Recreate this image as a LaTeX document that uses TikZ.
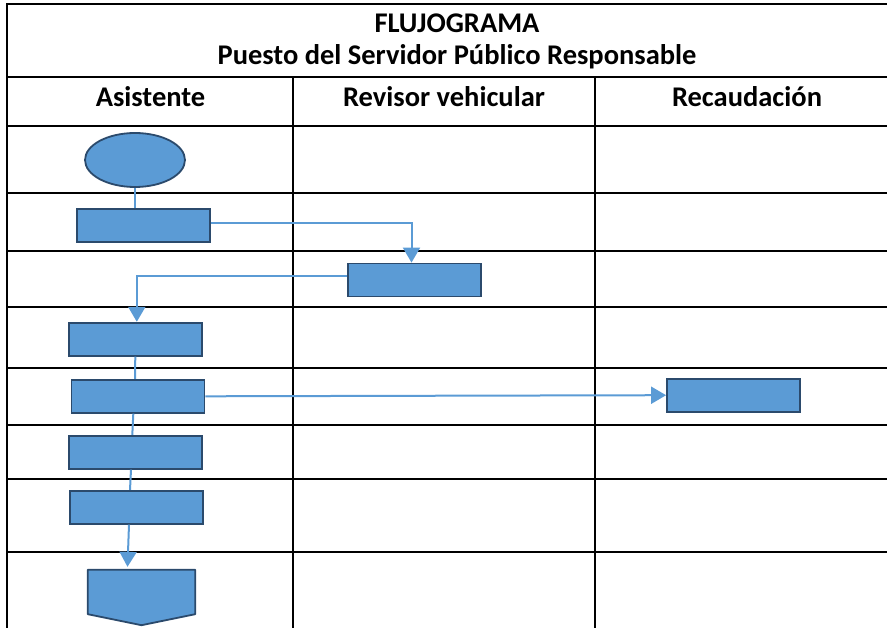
\documentclass[tikz,border=0pt]{standalone}
\usepackage{fontspec}
\setmainfont{Carlito}
\usetikzlibrary{shapes.geometric, arrows.meta, calc}
\definecolor{cajaazul}{HTML}{5B9BD5}
\definecolor{bordeazul}{HTML}{2B4A6C}
\tikzset{
    caja/.style={draw=bordeazul, fill=cajaazul, line width=1.8pt, minimum width=133pt, minimum height=33pt, inner sep=0pt},
    linea/.style={draw=cajaazul, line width=2pt},
    flecha/.style={linea, -{Triangle[width=17pt,length=15pt]}},
    titulo/.style={font=\fontsize{28.5}{32}\selectfont\bfseries, anchor=base, inner sep=0pt},
    rejilla/.style={line width=2pt, black}
}

\begin{document}
\begin{tikzpicture}[x=1pt, y=-1pt]
    \useasboundingbox (0,0) rectangle (887,628);

    % Draw table
    \draw[rejilla] (7,4.5) -- (887,4.5);
    \draw[rejilla] (7,3.5) -- (7,628);
    \foreach \y in {77.5,126,193,251,307,368,425,479,552} {
        \draw[rejilla] (7,\y) -- (887,\y);
    }
    \foreach \x in {293,595} {
        \draw[rejilla] (\x,77.5) -- (\x,628);
    }

    % Title and column headers
    \node[titulo] (titulo) at (457,33) {FLUJOGRAMA};
    \node[titulo] (puesto) at (457,65) {Puesto del Servidor Público Responsable};
    \node[titulo] (asistente) at (150.5,106.7) {Asistente};
    \node[titulo] (revisor) at (444,106.7) {Revisor vehicular};
    \node[titulo] (recaudacion) at (747,106.7) {Recaudación};

    % Shapes
    \node[ellipse, draw=bordeazul, fill=cajaazul, line width=1.8pt, inner sep=0pt,
          minimum width=100pt, minimum height=54pt] (inicio) at (135,160) {};
    \node[caja] (a1) at (143.5,225.5) {};
    \node[caja] (r1) at (414.5,280) {};
    \node[caja] (a2) at (135.3,339.2) {};
    \node[caja] (a3) at (138,396.3) {};
    \node[caja] (c1) at (733.5,395.2) {};
    \node[caja] (a4) at (135.3,452.3) {};
    \node[caja] (a5) at (136.3,507.2) {};

    % Off-page connector
    \node[minimum width=107pt, minimum height=44pt, inner sep=0pt] (fin) at (141.5,592) {};
    \draw[draw=bordeazul, fill=cajaazul, line width=1.8pt, line join=round]
        (fin.north west) -- (fin.north east) -- (fin.south east)
        -- ($(fin.south)+(0,11)$) -- (fin.south west) -- cycle;

    % Connectors
    \draw[linea] (inicio.south) -- (inicio.south |- a1.north);
    \draw[flecha] ([yshift=2pt]a1.east) -| ([xshift=-3pt]r1.north);
    \draw[flecha] ([yshift=4pt]r1.west) -| ([xshift=1.5pt]a2.north);
    \draw[linea] (a2.south) -- ([xshift=-3pt]a3.north);
    \draw[flecha] (a3.east) -- (c1.west);
    \draw[linea] ([xshift=-4.7pt]a3.south) -- ([xshift=-3pt]a4.north);
    \draw[linea] ([xshift=-4.3pt]a4.south) -- ([xshift=-6.3pt]a5.north);
    \draw[flecha] ([xshift=-7.3pt]a5.south) -- ([xshift=-14pt,yshift=3pt]fin.north);
\end{tikzpicture}
\end{document}
